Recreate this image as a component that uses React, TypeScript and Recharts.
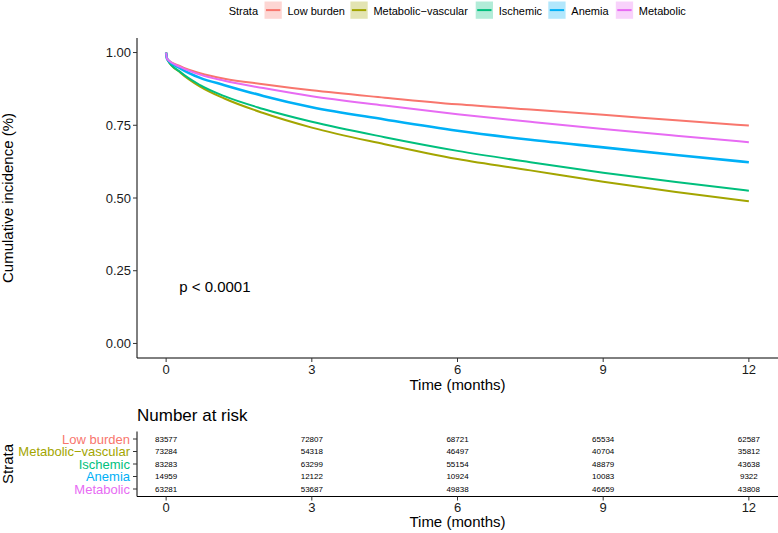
import React from 'react';
import { LineChart, Line, XAxis, YAxis, ScatterChart, Scatter, ReferenceDot, Label } from 'recharts';

// ---- Data ----
const strataLabels = ['Low burden', 'Metabolic\u2212vascular', 'Ischemic', 'Anemia', 'Metabolic'];
const strataKeys = ['lowBurden', 'metabolicVascular', 'ischemic', 'anemia', 'metabolic'];
const strataColors = ['#F8766D', '#A3A500', '#00BF7D', '#00B0F6', '#E76BF3'];

const times = [0, 0.02, 0.3, 0.7, 1.2, 2, 3, 4.5, 6, 7.5, 9, 10.5, 12];
const lowBurden = [1, 0.978, 0.952, 0.929, 0.910, 0.891, 0.870, 0.845, 0.822, 0.804, 0.786, 0.767, 0.749];
const metabolicVascular = [1, 0.978, 0.930, 0.883, 0.842, 0.792, 0.742, 0.685, 0.634, 0.595, 0.556, 0.521, 0.489];
const ischemic = [1, 0.978, 0.932, 0.888, 0.850, 0.806, 0.762, 0.709, 0.662, 0.623, 0.587, 0.555, 0.525];
const anemia = [1, 0.978, 0.945, 0.913, 0.888, 0.851, 0.812, 0.770, 0.731, 0.700, 0.674, 0.648, 0.623];
const metabolic = [1, 0.978, 0.950, 0.924, 0.903, 0.878, 0.850, 0.818, 0.788, 0.762, 0.737, 0.714, 0.692];

const xTicks = [0, 3, 6, 9, 12];
const yTicks = [0, 0.25, 0.5, 0.75, 1];

const riskTimes = [0, 3, 6, 9, 12];
const riskLowBurden = [83577, 72807, 68721, 65534, 62587];
const riskMetabolicVascular = [73284, 54318, 46497, 40704, 35812];
const riskIschemic = [83283, 63299, 55154, 48879, 43638];
const riskAnemia = [14959, 12122, 10924, 10083, 9322];
const riskMetabolic = [63281, 53687, 49838, 46659, 43808];

const pValueText = 'p < 0.0001';

// ---- Derived tables ----
const seriesValues = [lowBurden, metabolicVascular, ischemic, anemia, metabolic];
const curveData = times.map((t, i) => {
  const row: any = { t };
  strataKeys.forEach((k, s) => { row[k] = seriesValues[s][i]; });
  return row;
});
const riskRows = [riskLowBurden, riskMetabolicVascular, riskIschemic, riskAnemia, riskMetabolic];
const riskData = riskRows.flatMap((counts, s) =>
  riskTimes.map((t, j) => ({ t, row: s + 1, n: counts[j] }))
);

const FONT = '"Liberation Sans", Arial, Helvetica, sans-serif';
const TEXT = '#1a1a1a';

const fmt2 = (v: number) => v.toFixed(2);

const YLabel = (props: any) => {
  const vb = props.viewBox;
  const cy = vb.y + vb.height / 2;
  return (
    <text x={12.5} y={cy} transform={`rotate(-90, 12.5, ${cy})`} textAnchor="middle" fontSize={15} fill="#000" fontFamily={FONT}>
      {props.value}
    </text>
  );
};

const XLabel = (props: any) => {
  const vb = props.viewBox;
  return (
    <text x={vb.x + vb.width / 2} y={vb.y + props.baseline} textAnchor="middle" fontSize={15} fill="#000" fontFamily={FONT}>
      {props.value}
    </text>
  );
};

const StrataTick = (props: any) => {
  const { x, y, payload } = props;
  const i = Math.round(payload.value) - 1;
  return (
    <text x={x} y={y} dy="0.35em" textAnchor="end" fontSize={13} fill={strataColors[i]} fontFamily={FONT}>
      {strataLabels[i]}
    </text>
  );
};

const RiskCell = (props: any) => {
  const { cx, cy, payload } = props;
  return (
    <text x={cx} y={cy} dy="0.35em" textAnchor="middle" fontSize={8} fill="#000" fontFamily={FONT}>
      {payload.n}
    </text>
  );
};

const PLabel = (props: any) => {
  const vb = props.viewBox;
  return (
    <text x={vb.x} y={vb.y} dy="0.35em" textAnchor="start" fontSize={15} fill="#000" fontFamily={FONT}>
      {pValueText}
    </text>
  );
};

const legendSwatchX = [264.5, 350.4, 475.7, 548.3, 615.8];

export default function App() {
  return (
    <div style={{ position: 'absolute', left: 0, top: 0, width: 778, height: 533, background: '#fff', fontFamily: FONT, overflow: 'hidden' }}>
      {/* Legend */}
      <svg width={778} height={24} style={{ position: 'absolute', left: 0, top: 0 }}>
        <text x={228.7} y={14.5} fontSize={11} fill="#000" fontFamily={FONT}>Strata</text>
        {strataLabels.map((lab, i) => (
          <g key={lab}>
            <rect x={legendSwatchX[i]} y={1.5} width={17.3} height={17.3} fill={strataColors[i]} fillOpacity={0.3} />
            <line x1={legendSwatchX[i] + 1.5} x2={legendSwatchX[i] + 15.8} y1={10.1} y2={10.1} stroke={strataColors[i]} strokeWidth={2} />
            <text x={legendSwatchX[i] + 23} y={14.5} fontSize={11} fill="#000" fontFamily={FONT}>{lab}</text>
          </g>
        ))}
      </svg>

      {/* Survival curves */}
      <div style={{ position: 'absolute', left: 0, top: 0 }}>
        <LineChart width={778} height={400} data={curveData} margin={{ top: 38, right: 0, left: 0, bottom: 0 }}>
          <XAxis
            dataKey="t"
            type="number"
            domain={[-0.6, 12.6]}
            ticks={xTicks}
            height={42}
            tickSize={4}
            tickMargin={3}
            stroke="#000"
            tick={{ fill: TEXT, fontSize: 13, fontFamily: FONT }}
            tickLine={{ stroke: '#333' }}
          >
            <Label value="Time (months)" content={<XLabel baseline={32} />} />
          </XAxis>
          <YAxis
            type="number"
            domain={[-0.05, 1.05]}
            ticks={yTicks}
            width={137}
            tickSize={4}
            tickMargin={2}
            tickFormatter={fmt2}
            stroke="#000"
            tick={{ fill: TEXT, fontSize: 13, fontFamily: FONT }}
            tickLine={{ stroke: '#333' }}
          >
            <Label value="Cumulative incidence (%)" content={<YLabel />} />
          </YAxis>
          {strataKeys.map((k, i) => (
            <Line
              key={k}
              dataKey={k}
              type="monotone"
              stroke={strataColors[i]}
              strokeWidth={k === 'anemia' ? 2.6 : 2}
              dot={false}
              activeDot={false}
              isAnimationActive={false}
            />
          ))}
          <ReferenceDot x={0.27} y={0.195} r={0} fill="none" stroke="none" label={<PLabel />} />
        </LineChart>
      </div>

      {/* Number at risk title */}
      <svg width={778} height={30} style={{ position: 'absolute', left: 0, top: 400 }}>
        <text x={137} y={21} fontSize={17} fill="#000" fontFamily={FONT}>Number at risk</text>
      </svg>

      {/* Risk table */}
      <div style={{ position: 'absolute', left: 0, top: 400 }}>
        <ScatterChart width={778} height={133} margin={{ top: 31.5, right: 0, left: 0, bottom: 0 }}>
          <XAxis
            dataKey="t"
            type="number"
            domain={[-0.6, 12.6]}
            ticks={xTicks}
            height={36.5}
            tickSize={4}
            tickMargin={2}
            stroke="#000"
            tick={{ fill: TEXT, fontSize: 13, fontFamily: FONT }}
            tickLine={{ stroke: '#333' }}
          >
            <Label value="Time (months)" content={<XLabel baseline={30} />} />
          </XAxis>
          <YAxis
            dataKey="row"
            type="number"
            domain={[0.4, 5.6]}
            ticks={[1, 2, 3, 4, 5]}
            interval={0}
            reversed
            width={137}
            tickSize={4}
            tickMargin={3}
            stroke="#000"
            tick={<StrataTick />}
            tickLine={{ stroke: '#333' }}
          >
            <Label value="Strata" content={<YLabel />} />
          </YAxis>
          <Scatter data={riskData} shape={<RiskCell />} isAnimationActive={false} />
        </ScatterChart>
      </div>
    </div>
  );
}
